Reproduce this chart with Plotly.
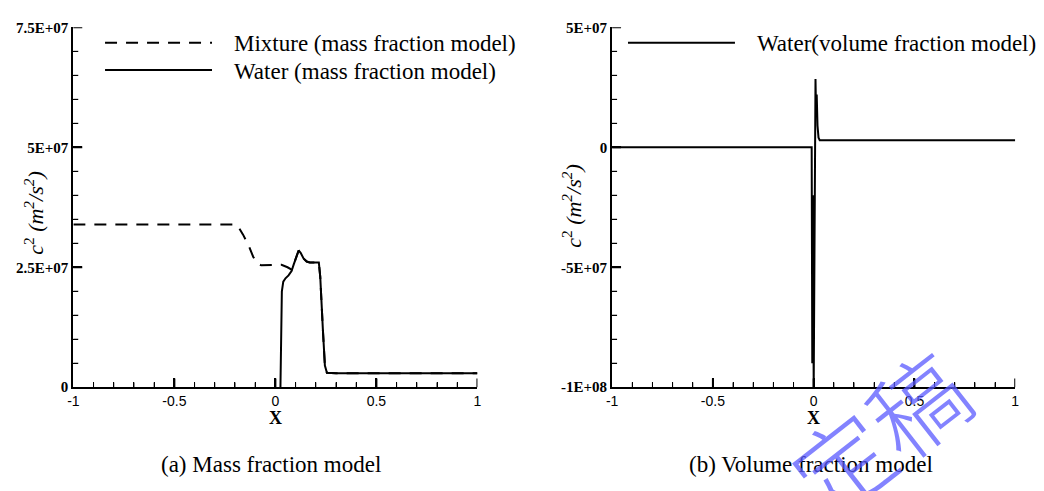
import plotly.graph_objects as go

# (a) mass fraction model: squared sound speed along x
mix_x = [-1.0, -0.20, -0.185, -0.16, -0.13, -0.11, -0.09, -0.07, 0.0, 0.03, 0.06, 0.08,
         0.09, 0.105, 0.115, 0.125, 0.14, 0.155, 0.17, 0.215, 0.222, 0.235, 0.245, 0.255, 0.30, 1.0]
mix_y = [3.39e7, 3.39e7, 3.35e7, 3.18e7, 2.93e7, 2.72e7, 2.58e7, 2.54e7, 2.55e7, 2.55e7, 2.5e7, 2.45e7,
         2.55e7, 2.75e7, 2.85e7, 2.8e7, 2.68e7, 2.62e7, 2.6e7, 2.6e7, 2.3e7, 1.2e7, 0.45e7, 0.3e7, 0.29e7, 0.29e7]

water_x = [0.025, 0.028, 0.032, 0.039, 0.05, 0.065, 0.08, 0.09, 0.105, 0.115, 0.125, 0.14,
           0.155, 0.17, 0.215, 0.222, 0.235, 0.245, 0.255, 0.30, 1.0]
water_y = [0.0, 1.2e7, 2.0e7, 2.2e7, 2.27e7, 2.33e7, 2.42e7, 2.55e7, 2.75e7, 2.85e7, 2.8e7, 2.68e7,
           2.62e7, 2.6e7, 2.6e7, 2.3e7, 1.2e7, 0.45e7, 0.3e7, 0.29e7, 0.29e7]

# (b) volume fraction model
vol_x = [-1.0, -0.010, -0.007, -0.004, 0.000, 0.003, 0.006, 0.009, 0.012, 0.015, 0.019,
         0.024, 0.030, 0.035, 1.0]
vol_y = [0.0, 0.0, -9.0e7, -2.0e7, -1.0e8, -6.0e7, 1.2e7, 2.85e7, 1.3e7, 2.2e7, 9.0e6,
         4.0e6, 2.9e6, 2.9e6, 2.9e6]

# tick positions
x_major = [-0.5, 0, 0.5, 1]
x_minor = [-0.9, -0.8, -0.7, -0.6, -0.4, -0.3, -0.2, -0.1, 0.1, 0.2, 0.3, 0.4, 0.6, 0.7, 0.8, 0.9]
a_major = [2.5e7, 5e7, 7.5e7]
a_minor = [0.5e7, 1e7, 1.5e7, 2e7, 3e7, 3.5e7, 4e7, 4.5e7, 5.5e7, 6e7, 6.5e7, 7e7]
b_major = [-5e7, 0, 5e7]
b_minor = [-9e7, -8e7, -7e7, -6e7, -4e7, -3e7, -2e7, -1e7, 1e7, 2e7, 3e7, 4e7]

# tick label text (default label -> printed label)
x_labels = {"−1": "-1", "−0.5": "-0.5", "-1": "-1", "-0.5": "-0.5"}
a_labels = {"25M": "2.5E+07", "50M": "5E+07", "75M": "7.5E+07"}
b_labels = {"−100M": "-1E+08", "−50M": "-5E+07", "-100M": "-1E+08", "-50M": "-5E+07", "50M": "5E+07"}

W, H = 1044, 491


def px(x):
    return x / W


def py(y):
    return 1 - y / H


fig = go.Figure()
fig.add_trace(go.Scatter(x=mix_x, y=mix_y, mode="lines", xaxis="x", yaxis="y",
                         line=dict(color="black", width=2, dash="12px,9px"), showlegend=False))
fig.add_trace(go.Scatter(x=water_x, y=water_y, mode="lines", xaxis="x", yaxis="y",
                         line=dict(color="black", width=2), showlegend=False))
fig.add_trace(go.Scatter(x=vol_x, y=vol_y, mode="lines", xaxis="x2", yaxis="y2",
                         line=dict(color="black", width=2), showlegend=False))

xfont = dict(family="Liberation Sans", size=14, color="black")
yfont = dict(family="Liberation Serif", size=15, color="black", weight="bold")


def axis_style(domain, anchor, rng, step, minor_step, labels, font):
    return dict(domain=domain, anchor=anchor, range=rng,
                tickmode="linear", tick0=0, dtick=step, labelalias=labels,
                showgrid=False, zeroline=False, showline=True, linecolor="black", linewidth=2,
                ticks="inside", ticklen=9, tickwidth=2, tickcolor="black", tickfont=font,
                minor=dict(dtick=minor_step, ticks="inside", ticklen=5, tickwidth=1,
                           tickcolor="black", showgrid=False))


AX_L, AX_R, AX_B, AX_T = 68, 612, 392, 20
xa_dom = [px(AX_L), px(476)]
xb_dom = [px(AX_R), px(1019)]
ydom = [py(AX_B), py(AX_T)]
fig.update_layout(
    width=W, height=H,
    margin=dict(l=0, r=0, t=0, b=0),
    paper_bgcolor="white", plot_bgcolor="white",
    xaxis=axis_style(xa_dom, "y", [-1, 1], 0.5, 0.1, x_labels, xfont),
    yaxis=axis_style(ydom, "x", [0, 7.5e7], 2.5e7, 5e6, a_labels, yfont),
    xaxis2=axis_style(xb_dom, "y2", [-1, 1], 0.5, 0.1, x_labels, xfont),
    yaxis2=axis_style(ydom, "x2", [-1e8, 5e7], 5e7, 1e7, b_labels, yfont),
)

# inward tick marks along the left and bottom axis lines
for xref, left_px in (("x", AX_L), ("x2", AX_R)):
    for vals, length, width in ((x_major, 9, 2), (x_minor, 5, 1)):
        for v in vals:
            fig.add_shape(type="line", xref=xref, yref="paper", x0=v, x1=v,
                          y0=py(AX_B), y1=py(AX_B - length), line=dict(color="black", width=width))
for yref, left_px, major, minor in (("y", AX_L, a_major, a_minor), ("y2", AX_R, b_major, b_minor)):
    for vals, length, width in ((major, 9, 2), (minor, 5, 1)):
        for v in vals:
            fig.add_shape(type="line", xref="paper", yref=yref, y0=v, y1=v,
                          x0=px(left_px), x1=px(left_px + length), line=dict(color="black", width=width))

serif = "Liberation Serif"
ytitle = "<i>c</i><sup>2</sup> <i>(m<sup>2</sup>/s<sup>2</sup>)</i>"
annotations = [
    dict(x=px(272), y=py(424), text="<b>X</b>", font=dict(family=serif, size=18)),
    dict(x=px(815), y=py(424), text="<b>X</b>", font=dict(family=serif, size=18)),
    dict(x=px(28), y=py(212), text=ytitle, textangle=-90, font=dict(family=serif, size=22)),
    dict(x=px(572), y=py(205), text=ytitle, textangle=-90, font=dict(family=serif, size=22)),
    dict(x=px(268), y=py(472), text="(a) Mass fraction model", font=dict(family=serif, size=23)),
    dict(x=px(813), y=py(472), text="(b) Volume fraction model", font=dict(family=serif, size=23)),
    dict(x=px(228), y=py(37), text="Mixture (mass fraction model)", xanchor="left",
         font=dict(family=serif, size=23)),
    dict(x=px(228), y=py(66), text="Water (mass fraction model)", xanchor="left",
         font=dict(family=serif, size=23)),
    dict(x=px(756), y=py(37), text="Water(volume fraction model)", xanchor="left",
         font=dict(family=serif, size=23)),
    dict(x=px(880), y=py(438), text="定稿", textangle=-38,
         font=dict(family="Noto Sans CJK SC", size=96, color="rgba(90,90,255,0.75)", weight=300)),
]
for a in annotations:
    a.setdefault("xanchor", "center")
    a.update(xref="paper", yref="paper", showarrow=False, yanchor="middle")
    a["font"].setdefault("color", "black")
fig.update_layout(annotations=annotations)

# legend sample lines
fig.add_shape(type="line", xref="paper", yref="paper", x0=px(100), x1=px(208), y0=py(36), y1=py(36),
              line=dict(color="black", width=2, dash="12px,9px"))
fig.add_shape(type="line", xref="paper", yref="paper", x0=px(100), x1=px(208), y0=py(64), y1=py(64),
              line=dict(color="black", width=2))
fig.add_shape(type="line", xref="paper", yref="paper", x0=px(628), x1=px(736), y0=py(36), y1=py(36),
              line=dict(color="black", width=2))

fig.write_html("out.html")
